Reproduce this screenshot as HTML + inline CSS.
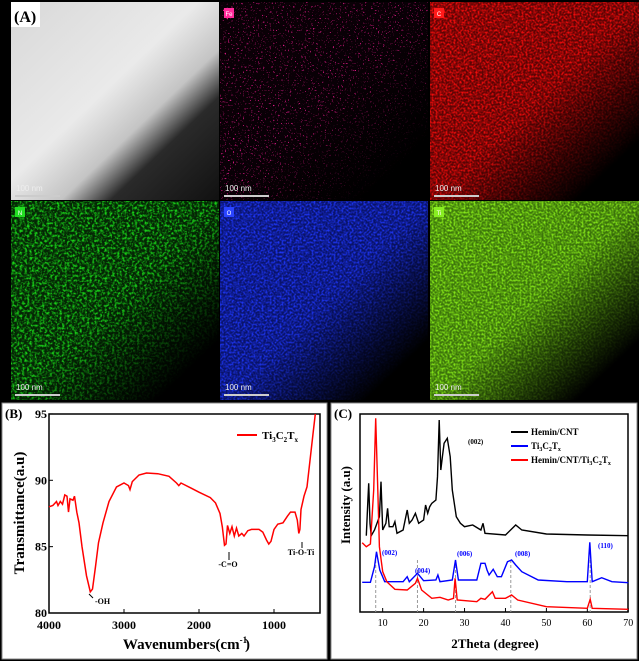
<!DOCTYPE html>
<html><head><meta charset="utf-8"><style>
html,body{margin:0;padding:0;background:#000;}
svg{display:block;font-family:"Liberation Serif",serif;}
</style></head><body>
<svg id="s" width="639" height="661" viewBox="0 0 639 661" xmlns="http://www.w3.org/2000/svg">
<defs>
<linearGradient id="fade" x1="0" y1="0" x2="1" y2="1">
<stop offset="0" stop-color="#fff"/><stop offset="0.5" stop-color="#eee"/><stop offset="0.72" stop-color="#555"/><stop offset="0.85" stop-color="#000"/><stop offset="1" stop-color="#000"/>
</linearGradient>
<mask id="m1" maskContentUnits="objectBoundingBox"><rect width="1" height="1" fill="url(#fade)"/></mask>
<linearGradient id="tem" x1="0" y1="0" x2="1" y2="1">
<stop offset="0" stop-color="#d8d8d8"/><stop offset="0.45" stop-color="#eaeaea"/><stop offset="0.62" stop-color="#c4c4c4"/><stop offset="0.74" stop-color="#2a2a2a"/><stop offset="1" stop-color="#111"/>
</linearGradient>
</defs>
<rect width="639" height="661" fill="#000"/>
<rect x="11" y="2" width="208" height="198" fill="url(#tem)"/>
<rect x="11" y="2" width="29" height="25" fill="#fff"/>
<text x="14" y="22" font-size="16" font-weight="bold">(A)</text>
<g id="maps"></g>
<rect x="2" y="403" width="325" height="256" fill="#fff" stroke="#888"/>
<rect x="331" y="403" width="306" height="256" fill="#fff" stroke="#888"/>
<g id="B"></g><g id="C"></g>
</svg>
<script>
var NS="http://www.w3.org/2000/svg",s=document.getElementById('s');
function el(p,t,a,txt){var e=document.createElementNS(NS,t);for(var k in a)e.setAttribute(k,a[k]);if(txt!=null)e.textContent=txt;p.appendChild(e);return e;}
var defs=s.querySelector('defs');
var maps=document.getElementById('maps');
var P=[[220,2,208,198,'#ff2a9a','Fe',[0.9,0.1,0.55],'#0a0006',10,-6.6,0.6],
[430,2,209,198,'#ff1a1a','C',[1,0.05,0.05],'#600404',2.6,-1.0,0.5],
[11,201,208,199,'#22dd22','N',[0.1,0.85,0.1],'#052805',3,-1.3,0.4],
[220,201,208,199,'#2a44ff','O',[0.12,0.22,1],'#0a1470',2.6,-1.0,0.5],
[430,201,209,199,'#88ee22','Ti',[0.55,0.95,0.1],'#3f7a0c',2.6,-1.0,0.5]];
P.forEach(function(p,i){
 var f=el(defs,'filter',{id:'f'+i,x:'0',y:'0',width:'100%',height:'100%','color-interpolation-filters':'sRGB'});
 el(f,'feTurbulence',{type:'fractalNoise',baseFrequency:p[10],numOctaves:'2',seed:String(3+i*5)});
 var c=p[6];
 el(f,'feColorMatrix',{type:'matrix',values:'0 0 0 0 '+c[0]+'  0 0 0 0 '+c[1]+'  0 0 0 0 '+c[2]+'  '+p[8]+' 0 0 0 '+p[9]});
 el(maps,'rect',{x:p[0],y:p[1],width:p[2],height:p[3],fill:'#000'});
 var g=el(maps,'g',{mask:'url(#m1)'});
 el(g,'rect',{x:p[0],y:p[1],width:p[2],height:p[3],fill:p[7]});
 el(g,'rect',{x:p[0],y:p[1],width:p[2],height:p[3],filter:'url(#f'+i+')',fill:'#fff'});
 el(maps,'rect',{x:p[0]+4,y:p[1]+6,width:10,height:10,fill:p[4]});
 el(maps,'text',{x:p[0]+9,y:p[1]+14,'font-size':6,fill:'#fff','text-anchor':'middle','font-family':'Liberation Sans'},p[5]);
});
[[11,2],[220,2],[430,2],[11,201],[220,201],[430,201]].forEach(function(q){
 el(maps,'text',{x:q[0]+5,y:q[1]+189,'font-size':8,fill:'#eee','font-family':'Liberation Sans'},'100 nm');
 el(maps,'rect',{x:q[0]+4,y:q[1]+193,width:45,height:2,fill:'#ccc'});
});
var B=document.getElementById('B');
var bx=function(w){return 49+(4000-w)*0.075},by=function(t){return 613-(t-80)*13.27};
el(B,'rect',{x:49,y:414,width:271,height:199,fill:'none',stroke:'#000','stroke-width':1.5});
[4000,3000,2000,1000].forEach(function(w){el(B,'line',{x1:bx(w),y1:613,x2:bx(w),y2:609,stroke:'#000'});el(B,'text',{x:bx(w),y:629,'font-size':12,'font-weight':'bold','text-anchor':'middle'},w);});
[80,85,90,95].forEach(function(t){el(B,'line',{x1:49,y1:by(t),x2:53,y2:by(t),stroke:'#000'});el(B,'text',{x:47,y:by(t)+4,'font-size':12,'font-weight':'bold','text-anchor':'end'},t);});
el(B,'text',{x:5,y:418,'font-size':13,'font-weight':'bold'},'(B)');
el(B,'text',{x:185,y:649,'font-size':15,'font-weight':'bold','text-anchor':'middle'},'Wavenumbers(cm').appendChild((function(){var t=document.createElementNS(NS,'tspan');t.setAttribute('font-size','9');t.setAttribute('dy','-6');t.textContent='-1';return t})());
el(B,'text',{x:245,y:649,'font-size':15,'font-weight':'bold'},')');
el(B,'text',{x:0,y:0,'font-size':15,'font-weight':'bold','text-anchor':'middle',transform:'translate(24,513) rotate(-90)'},'Transmittance(a.u)');
var fd=[[4000,88],[3950,88.1],[3900,88.4],[3880,88.1],[3850,88.4],[3820,88.2],[3790,88.9],[3760,88.8],[3740,87.6],[3720,88.6],[3680,88.5],[3660,88.8],[3630,87.6],[3600,86.8],[3560,85],[3500,82.8],[3450,81.6],[3420,81.8],[3380,83.5],[3340,85.3],[3280,86.8],[3200,88.4],[3100,89.5],[3000,89.8],[2940,89.6],[2920,89.3],[2890,89.9],[2800,90.4],[2700,90.55],[2550,90.5],[2400,90.3],[2300,89.8],[2270,89.6],[2240,89.8],[2100,89.4],[2000,89.1],[1850,88.7],[1780,88.3],[1720,87.5],[1690,86.5],[1660,85.1],[1640,85.2],[1620,86.6],[1590,86],[1560,86.5],[1530,85.8],[1500,86.4],[1470,85.8],[1430,86],[1400,85.8],[1350,86.2],[1300,86.3],[1200,86.3],[1150,86.1],[1100,85.5],[1070,85.2],[1040,85.4],[1000,86.3],[950,86.7],[880,86.8],[820,87.3],[780,87.6],[720,87.6],[690,87],[670,86],[655,86.3],[640,87.8],[600,88.8],[560,89.5],[520,91.5],[480,93.5],[450,95]];
el(B,'polyline',{points:fd.map(function(p){return bx(p[0]).toFixed(1)+','+by(p[1]).toFixed(1)}).join(' '),fill:'none',stroke:'#f00','stroke-width':1.5});
el(B,'line',{x1:237,y1:435,x2:257,y2:435,stroke:'#f00','stroke-width':2});
var t=el(B,'text',{x:262,y:439,'font-size':11,'font-weight':'bold'},'Ti');
[['3',1],['C',0],['2',1],['T',0],['x',1]].forEach(function(a){var ts=document.createElementNS(NS,'tspan');ts.textContent=a[0];if(a[1]){ts.setAttribute('font-size','7');ts.setAttribute('dy','3')}else ts.setAttribute('dy','-3');t.appendChild(ts);});
el(B,'text',{x:95,y:604,'font-size':8,'font-weight':'bold'},'-OH');
el(B,'text',{x:228,y:567,'font-size':8,'font-weight':'bold','text-anchor':'middle'},'-C=O');
el(B,'text',{x:301,y:555,'font-size':8,'font-weight':'bold','text-anchor':'middle'},'Ti-O-Ti');
el(B,'line',{x1:93,y1:598,x2:89,y2:594,stroke:'#000'});
el(B,'line',{x1:229,y1:560,x2:229,y2:552,stroke:'#000'});
el(B,'line',{x1:302,y1:548,x2:302,y2:542,stroke:'#000'});
var C=document.getElementById('C');
var cx=function(q){return 325+(173+12.28*(q-10))/3},cy=function(z){return 390+z/3};
el(C,'rect',{x:360,y:414,width:268,height:198,fill:'none',stroke:'#000','stroke-width':1.5});
[10,20,30,40,50,60,70].forEach(function(q){el(C,'line',{x1:cx(q),y1:612,x2:cx(q),y2:608,stroke:'#000'});el(C,'text',{x:cx(q),y:626,'font-size':10,'text-anchor':'middle'},q);});
el(C,'text',{x:334,y:418,'font-size':13,'font-weight':'bold'},'(C)');
el(C,'text',{x:495,y:648,'font-size':13,'font-weight':'bold','text-anchor':'middle'},'2Theta (degree)');
el(C,'text',{x:0,y:0,'font-size':13,'font-weight':'bold','text-anchor':'middle',transform:'translate(350,505) rotate(-90)'},'Intensity (a.u)');
[8.3,18.5,27.8,41.3,60.7].forEach(function(q){el(C,'line',{x1:cx(q),y1:cy(510),x2:cx(q),y2:612,stroke:'#999','stroke-dasharray':'3,2'});});
var K=[[6,437],[6.4,330],[6.6,280],[6.9,400],[7.2,437],[8,420],[9.2,380],[9.6,275],[10,420],[10.8,400],[11.2,355],[11.6,410],[12.5,410],[13,395],[13.5,430],[15,420],[16,360],[16.5,400],[17.2,390],[18,370],[18.8,400],[20,390],[20.5,345],[21,370],[21.5,350],[22,340],[23,330],[23.4,260],[23.8,90],[24.2,240],[24.6,200],[25,160],[25.8,145],[26.5,200],[27,300],[28,380],[29,400],[30,410],[32,405],[34,420],[34.5,400],[35,430],[40,435],[42.5,405],[44,420],[50,432],[60,435],[70,437]];
var Bl=[[5,577],[7,577],[8,530],[8.5,485],[9.3,540],[10.5,575],[15,575],[16,560],[16.5,575],[18.5,550],[20,572],[23,570],[23.5,555],[24,575],[27,570],[27.8,510],[28.5,570],[33,570],[34,520],[35,520],[35.5,540],[36,555],[37,538],[38,560],[39,560],[40.5,515],[41.5,510],[42.5,525],[44,545],[48,570],[55,575],[60,575],[60.6,457],[61.2,575],[63.5,563],[66,575],[70,578]];
var R=[[5,458],[6,470],[7,462],[7.8,300],[8.3,85],[8.8,300],[9.2,470],[10,545],[11,575],[13,598],[16,600],[18,580],[18.5,565],[19.5,600],[22,625],[24,622],[26,630],[27.3,625],[27.7,565],[28.2,630],[33,635],[34,625],[35,628],[36.8,605],[37.5,625],[40,625],[41.5,615],[43,630],[50,650],[60,655],[60.7,628],[61.2,655],[70,658]];
function pl(d,c){el(C,'polyline',{points:d.map(function(p){return cx(p[0]).toFixed(1)+','+cy(p[1]).toFixed(1)}).join(' '),fill:'none',stroke:c,'stroke-width':1.4});}
pl(K,'#000');pl(Bl,'#00f');pl(R,'#f00');
[['#000',432],['#00f',446],['#f00',460]].forEach(function(a){el(C,'line',{x1:511,y1:a[1],x2:528,y2:a[1],stroke:a[0],'stroke-width':2});});
el(C,'text',{x:531,y:435,'font-size':9,'font-weight':'bold'},'Hemin/CNT');
function tx(x,y,pre){var t=el(C,'text',{x:x,y:y,'font-size':9,'font-weight':'bold'},pre);[['3',1],['C',0],['2',1],['T',0],['x',1]].forEach(function(a){var ts=document.createElementNS(NS,'tspan');ts.textContent=a[0];if(a[1]){ts.setAttribute('font-size','6');ts.setAttribute('dy','2')}else ts.setAttribute('dy','-2');t.appendChild(ts);});}
tx(531,449,'Ti');tx(531,463,'Hemin/CNT/Ti');
el(C,'text',{x:468,y:444,'font-size':7,'font-weight':'bold'},'(002)');
[['(002)',382,555],['(004)',415,573],['(006)',457,556],['(008)',515,556],['(110)',598,548]].forEach(function(a){el(C,'text',{x:a[1],y:a[2],'font-size':7,'font-weight':'bold',fill:'#00f'},a[0]);});
</script>
</body></html>
